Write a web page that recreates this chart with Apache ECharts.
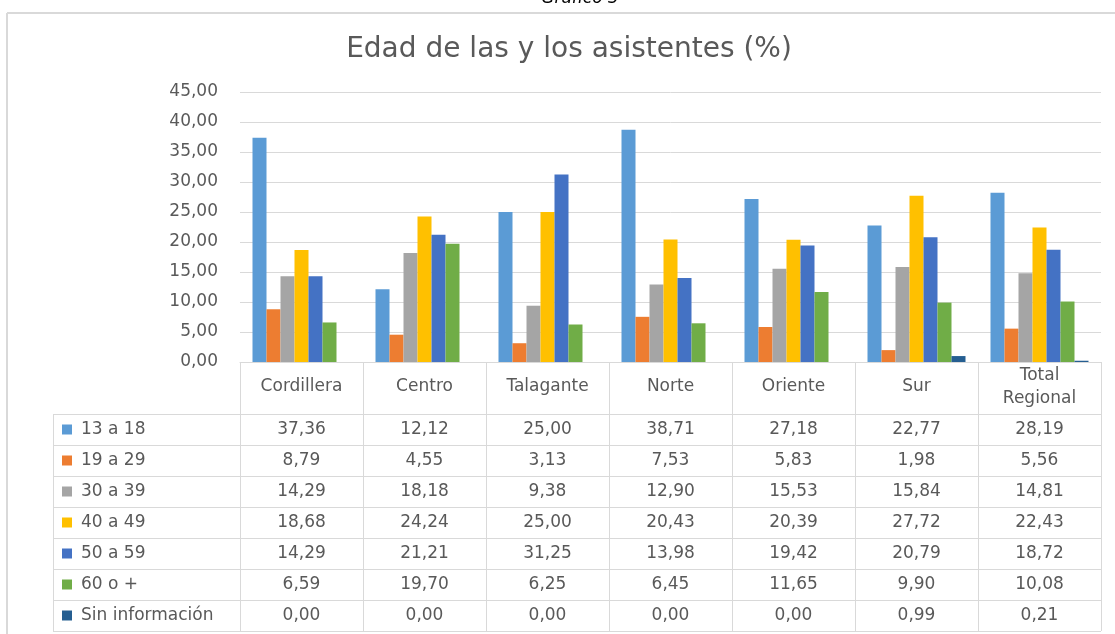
<!DOCTYPE html>
<html>
<head>
<meta charset="utf-8">
<script src="https://cdn.jsdelivr.net/npm/echarts@6/dist/echarts.min.js"></script>
<style>
  html, body { margin: 0; padding: 0; background: #fff; }
  #chart { width: 1115px; height: 634px; }
</style>
</head>
<body>
<div id="chart"></div>
<script>
// categorias (zonas) y grupos de edad
const zonas = ['Cordillera', 'Centro', 'Talagante', 'Norte', 'Oriente', 'Sur', 'Total\nRegional'];
const grupos = ['13 a 18', '19 a 29', '30 a 39', '40 a 49', '50 a 59', '60 o +', 'Sin información'];
const colores = ['#5B9BD5', '#ED7D31', '#A5A5A5', '#FFC000', '#4472C4', '#70AD47', '#255E91'];

// valores por grupo (%)
const v13a18 = [37.36, 12.12, 25.00, 38.71, 27.18, 22.77, 28.19];
const v19a29 = [8.79, 4.55, 3.13, 7.53, 5.83, 1.98, 5.56];
const v30a39 = [14.29, 18.18, 9.38, 12.90, 15.53, 15.84, 14.81];
const v40a49 = [18.68, 24.24, 25.00, 20.43, 20.39, 27.72, 22.43];
const v50a59 = [14.29, 21.21, 31.25, 13.98, 19.42, 20.79, 18.72];
const v60mas = [6.59, 19.70, 6.25, 6.45, 11.65, 9.90, 10.08];
const vSinInfo = [0.00, 0.00, 0.00, 0.00, 0.00, 0.99, 0.21];
const valores = [v13a18, v19a29, v30a39, v40a49, v50a59, v60mas, vSinInfo];

// layout
const FONT = '"DejaVu Sans", sans-serif';
const FS = 17;
const TXT = '#595959';
const LINEA = '#d9d9d9';
const gLeft = 240, gRight = 1101, gTop = 92, gBottom = 362;
const colW = (gRight - gLeft) / zonas.length;
const tablaTop = 414, filaH = 31, tablaLeft = 53;

const fmt = v => v.toFixed(2).replace('.', ',');

const myChart = echarts.init(document.getElementById('chart'));

// marco y tabla de datos bajo el grafico
let graficos = [];
graficos.push({ type: 'line', shape: { x1: 7, y1: 13, x2: 1115, y2: 13 }, style: { stroke: LINEA, lineWidth: 2 } });
graficos.push({ type: 'line', shape: { x1: 7, y1: 13, x2: 7, y2: 634 }, style: { stroke: LINEA, lineWidth: 2 } });
graficos.push({
  type: 'text', x: 580, y: -1,
  style: { text: 'Gráfico 3', font: 'italic 17px ' + FONT, fill: '#000', textAlign: 'center', textVerticalAlign: 'middle' }
});
graficos.push({
  type: 'text', x: 569, y: 50,
  style: { text: 'Edad de las y los asistentes (%)', font: '28px ' + FONT, fill: TXT, textAlign: 'center', textVerticalAlign: 'middle' }
});

for (let i = 0; i <= grupos.length; i++) {
  const y = tablaTop + i * filaH + 0.5;
  graficos.push({ type: 'line', shape: { x1: tablaLeft, y1: y, x2: gRight, y2: y }, style: { stroke: LINEA, lineWidth: 1 } });
}
const xs = [tablaLeft];
for (let j = 0; j <= zonas.length; j++) xs.push(gLeft + j * colW);
xs.forEach(x => {
  graficos.push({
    type: 'line',
    shape: { x1: Math.round(x) + 0.5, y1: tablaTop, x2: Math.round(x) + 0.5, y2: tablaTop + grupos.length * filaH },
    style: { stroke: LINEA, lineWidth: 1 }
  });
});
grupos.forEach((g, i) => {
  const cy = tablaTop + i * filaH + filaH / 2;
  graficos.push({ type: 'rect', shape: { x: 62, y: cy - 5, width: 10, height: 10 }, style: { fill: colores[i] } });
  graficos.push({
    type: 'text', x: 81, y: cy,
    style: { text: g, font: FS + 'px ' + FONT, fill: TXT, textAlign: 'left', textVerticalAlign: 'middle' }
  });
  valores[i].forEach((v, j) => {
    graficos.push({
      type: 'text', x: gLeft + (j + 0.5) * colW, y: cy,
      style: { text: fmt(v), font: FS + 'px ' + FONT, fill: TXT, textAlign: 'center', textVerticalAlign: 'middle' }
    });
  });
});

const option = {
  animation: false,
  backgroundColor: '#fff',
  grid: { left: gLeft, right: 1115 - gRight, top: gTop, bottom: 634 - gBottom, containLabel: false },
  xAxis: {
    type: 'category',
    data: zonas,
    axisLine: { lineStyle: { color: LINEA, width: 1 } },
    axisTick: { show: true, length: 52, interval: 0, lineStyle: { color: LINEA } },
    axisLabel: {
      interval: 0, margin: 25, verticalAlign: 'middle',
      fontFamily: FONT, fontSize: FS, color: TXT, lineHeight: 23
    }
  },
  yAxis: {
    type: 'value', min: 0, max: 45, interval: 5,
    axisLine: { show: false }, axisTick: { show: false },
    splitLine: { lineStyle: { color: LINEA, width: 1 } },
    axisLabel: { margin: 22, fontFamily: FONT, fontSize: FS, color: TXT, formatter: v => fmt(v) }
  },
  series: grupos.map((g, i) => ({
    name: g, type: 'bar', data: valores[i],
    barWidth: 14, barGap: '0%',
    itemStyle: { color: colores[i] }
  })),
  graphic: graficos
};

myChart.setOption(option);
</script>
</body>
</html>
